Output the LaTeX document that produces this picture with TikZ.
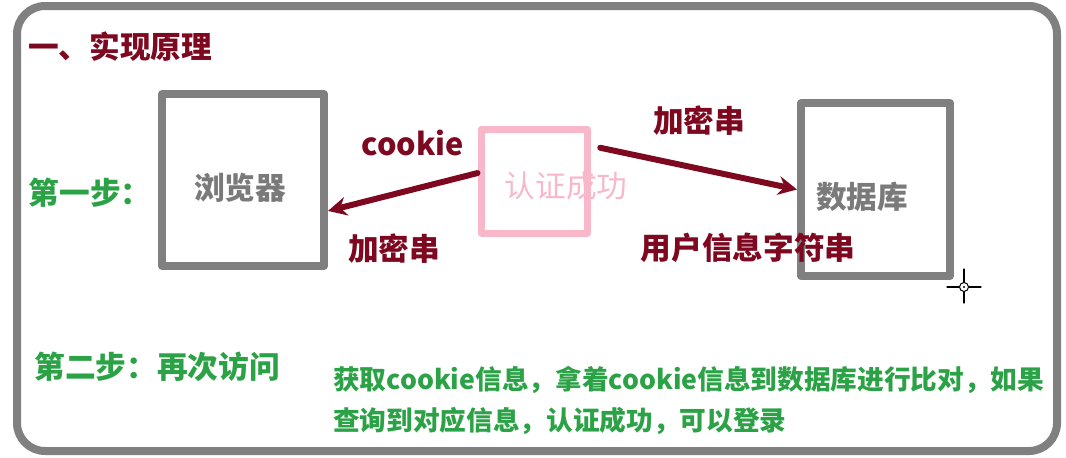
\documentclass[tikz,border=0pt]{standalone}
\usepackage{fontspec}
\setmainfont{Noto Sans CJK SC}
\usetikzlibrary{arrows.meta, calc}
\definecolor{darkred}{RGB}{125,8,32}
\definecolor{stepgreen}{RGB}{44,162,70}
\definecolor{boxgray}{RGB}{128,128,128}
\definecolor{authpink}{RGB}{248,184,202}
\begin{document}
\begin{tikzpicture}[
  x=0.75pt, y=-0.75pt,
  line cap=round, line join=round,
  frame/.style={draw=boxgray, line width=6pt, rounded corners=21pt},
  box/.style={draw=boxgray, line width=6pt, inner sep=0pt},
  redtxt/.style={text=darkred, font=\fontsize{23}{27}\selectfont\bfseries},
  greentxt/.style={text=stepgreen, font=\fontsize{23}{27}\selectfont\bfseries},
  graytxt/.style={text=boxgray!95!black, font=\fontsize{23}{27}\selectfont\bfseries},
  arr/.style={draw=darkred, line width=4.5pt, -{Stealth[length=14pt, width=14pt]}}
]
  \useasboundingbox (0,0) rectangle (1066,457);

  % outer frame
  \draw[frame] (17,6) rectangle (1057,451);

  % heading
  \node[redtxt] (title) at (120,47) {一、实现原理};

  % the three boxes
  \node[box, minimum width=121.5pt, minimum height=129pt] (browser) at (243,180) {};
  \node[box, draw=authpink, line width=5.25pt, minimum width=79.5pt, minimum height=78pt] (auth) at (534,181) {};
  \node[box, minimum width=111.75pt, minimum height=129.75pt] (db) at (875.5,189.5) {};

  % box texts
  \node[graytxt] (browsertxt) at (240,188) {浏览器};
  \node[text=authpink, font=\fontsize{23}{27}\selectfont] (authtxt) at (566,186) {认证成功};
  \node[graytxt] (dbtxt) at (862,197) {数据库};

  % step one
  \node[greentxt] (step1) at (90,193) {第一步：};

  % connectors
  \draw[arr] (auth.172) -- (browser.-20);
  \draw[arr, shorten <=7.5pt] (auth.32) -- (db.west);

  % connector labels
  \node[redtxt] (cookie) at (413,143) {cookie};
  \node[redtxt] (enc1) at (394,249) {加密串};
  \node[redtxt] (enc2) at (699,121) {加密串};
  \node[redtxt] (userinfo) at (748,248) {用户信息字符串};

  % cursor
  \coordinate (cur) at (964,287);
  \draw[black, line width=0.9pt] ($(cur)+(-17,0)$) -- ($(cur)+(17,0)$);
  \draw[black, line width=0.9pt] ($(cur)+(0,-18)$) -- ($(cur)+(0,16)$);
  \draw[black, line width=0.75pt, fill=white] (cur) circle (4.5);
  \fill[black] (cur) circle (1.2);

  % step two
  \node[greentxt] (step2) at (157,367) {第二步：再次访问};
  \node[text=stepgreen, font=\fontsize{20}{30.75}\selectfont\bfseries, align=left, anchor=north west, inner sep=0pt] (desc) at (333,366)
    {获取cookie信息，拿着cookie信息到数据库进行比对，如果\\查询到对应信息，认证成功，可以登录};
\end{tikzpicture}
\end{document}
